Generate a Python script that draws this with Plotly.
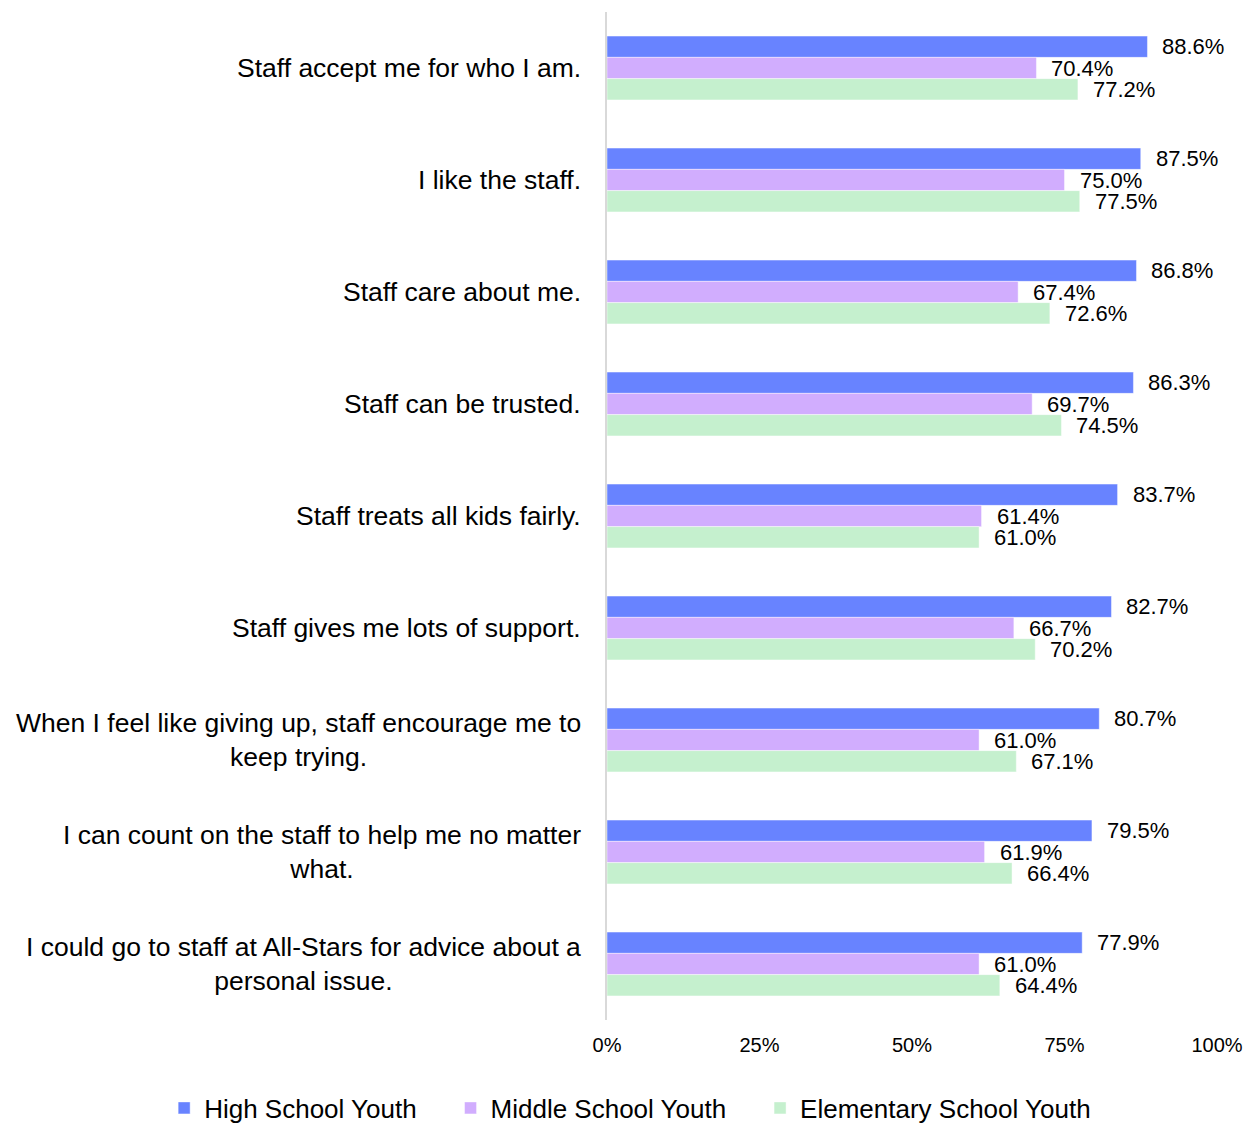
import plotly.graph_objects as go

categories = [
    "Staff accept me for who I am.",
    "I like the staff.",
    "Staff care about me.",
    "Staff can be trusted.",
    "Staff treats all kids fairly.",
    "Staff gives me lots of support.",
    "When I feel like giving up, staff encourage me to<br>keep trying.",
    "I can count on the staff to help me no matter<br>what.",
    "I could go to staff at All-Stars for advice about a<br>personal issue.",
]
high_school = [88.6, 87.5, 86.8, 86.3, 83.7, 82.7, 80.7, 79.5, 77.9]
middle_school = [70.4, 75.0, 67.4, 69.7, 61.4, 66.7, 61.0, 61.9, 61.0]
elementary = [77.2, 77.5, 72.6, 74.5, 61.0, 70.2, 67.1, 66.4, 64.4]

series_names = ["High School Youth", "Middle School Youth", "Elementary School Youth"]
series_colors = ["#6883FF", "#D1ADFE", "#C5F0CE"]
tick_vals = [0, 25, 50, 75, 100]
tick_text = ["0%", "25%", "50%", "75%", "100%"]

FONT = "Liberation Sans"
positions = list(range(len(categories)))
bargap = 0.43
bar_w = (1 - bargap) / 3
LEGEND_PAD = "\u00a0" * 4  # extra room between legend entries

fig = go.Figure()
all_series = [high_school, middle_school, elementary]
for name, vals, color in zip(series_names, all_series, series_colors):
    fig.add_trace(go.Bar(
        y=positions, x=vals, orientation="h", name=name + LEGEND_PAD,
        marker=dict(color=color, line=dict(color="rgba(255,255,255,0.45)", width=1)),
        hoverinfo="skip",
    ))

annotations = []
# value labels to the right of each bar
for k, vals in enumerate(all_series):
    for i, v in enumerate(vals):
        annotations.append(dict(
            x=v, y=i + (k - 1) * bar_w, xref="x", yref="y",
            text=f"{v:.1f}%", showarrow=False, xanchor="left", yanchor="middle",
            xshift=13, font=dict(family=FONT, size=22, color="#000000"),
        ))
# category labels, centred lines, right-aligned to the axis
for i, c in enumerate(categories):
    annotations.append(dict(
        x=0, y=i, xref="x", yref="y", text=c, showarrow=False,
        xanchor="right", yanchor="middle", align="center", xshift=-24,
        font=dict(family=FONT, size=26.5, color="#000000"),
    ))

fig.update_layout(
    width=1249, height=1123,
    margin=dict(l=607, r=32, t=12, b=103, autoexpand=False),
    paper_bgcolor="white", plot_bgcolor="white",
    barmode="group", bargap=bargap, bargroupgap=0,
    annotations=annotations,
    showlegend=True,
    legend=dict(
        orientation="h", xref="paper", yref="paper",
        x=-0.726, xanchor="left", y=-0.064, yanchor="top",
        font=dict(family=FONT, size=26, color="#000000"),
        itemwidth=30, tracegroupgap=0,
    ),
    font=dict(family=FONT, color="#000000"),
)
fig.update_xaxes(
    range=[0, 100], tickvals=tick_vals, ticktext=tick_text,
    showgrid=False, zeroline=False, showline=False,
    ticks="", ticklabelstandoff=11,
    tickfont=dict(family=FONT, size=20, color="#000000"),
    fixedrange=True,
)
fig.update_yaxes(
    range=[8.5, -0.5], showticklabels=False, showgrid=False, zeroline=False,
    showline=True, linecolor="#D9D9D9", linewidth=2, ticks="",
    fixedrange=True,
)

fig.write_html("out.html", config={"displayModeBar": False})
